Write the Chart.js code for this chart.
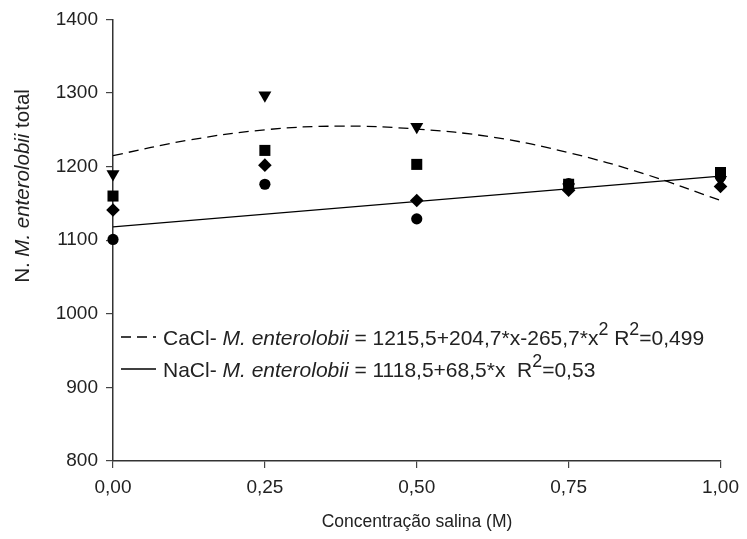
<!DOCTYPE html>
<html>
<head>
<meta charset="UTF-8">
<script src="https://cdn.jsdelivr.net/npm/chart.js"></script>
<style>
  html, body { margin: 0; padding: 0; background: #fff; }
  #wrap { width: 747px; height: 539px; }
</style>
</head>
<body>
<div id="wrap"><canvas id="myChart" width="747" height="539"></canvas></div>
<script>
// concentrations
var xCats = [0, 0.25, 0.5, 0.75, 1];
// observed counts, one array per marker
var triangleVals = [1190, 1297, 1254, 1172, 1182];
var squareVals   = [1160, 1222, 1203, 1176, 1192];
var diamondVals  = [1141, 1202, 1154, 1168, 1173];
var circleVals   = [1101, 1176, 1129, 1177, 1186];
// fitted curves
var caclX = [0, 0.125, 0.25, 0.375, 0.5, 0.625, 0.75, 0.875, 1];
var caclY = [1215, 1236, 1250, 1255, 1251, 1240, 1219, 1190, 1154];
var naclX = [0, 1];
var naclY = [1118, 1187];
var yTicks = [800, 900, 1000, 1100, 1200, 1300, 1400];

var FONT = '"Liberation Sans", Arial, sans-serif';
var INK = '#222';

function pts(xs, ys) {
  var out = [];
  for (var i = 0; i < xs.length; i++) out.push({x: xs[i], y: ys[i]});
  return out;
}

function markerSet(vals, style, r, rot) {
  return {
    type: 'scatter',
    data: pts(xCats, vals),
    pointStyle: style,
    pointRadius: r,
    pointRotation: rot || 0,
    backgroundColor: '#000',
    borderColor: '#000',
    borderWidth: 0,
    clip: false
  };
}

// draws a run of text pieces: [text, italic, sup]
function drawRich(ctx, x, y, parts, size) {
  var cx = x;
  for (var i = 0; i < parts.length; i++) {
    var p = parts[i];
    var s = p[2] ? size * 0.85 : size;
    ctx.font = (p[1] ? 'italic ' : '') + s + 'px ' + FONT;
    ctx.fillText(p[0], cx, p[2] ? y - size * 0.42 : y);
    cx += ctx.measureText(p[0]).width;
  }
  return cx;
}

var extras = {
  id: 'extras',
  afterDraw: function(chart) {
    var ctx = chart.ctx;
    ctx.save();
    ctx.fillStyle = INK;
    ctx.strokeStyle = '#000';
    ctx.textBaseline = 'middle';

    // x title
    ctx.font = '17.5px ' + FONT;
    ctx.textAlign = 'center';
    ctx.fillText('Concentração salina (M)', 417, 522);

    // y title, rotated
    ctx.save();
    ctx.translate(23, 186);
    ctx.rotate(-Math.PI / 2);
    ctx.textAlign = 'left';
    var parts = [['N. ', false], ['M. enterolobii', true], [' total', false]];
    var w = 0;
    parts.forEach(function(p) {
      ctx.font = (p[1] ? 'italic ' : '') + '20.5px ' + FONT;
      w += ctx.measureText(p[0]).width;
    });
    drawRich(ctx, -w / 2, 0, parts, 20.5);
    ctx.restore();

    // legend
    ctx.textAlign = 'left';
    ctx.lineWidth = 1.3;
    ctx.setLineDash([10, 6]);
    ctx.beginPath(); ctx.moveTo(121, 337); ctx.lineTo(156, 337); ctx.stroke();
    ctx.setLineDash([]);
    ctx.beginPath(); ctx.moveTo(121, 369); ctx.lineTo(156, 369); ctx.stroke();

    drawRich(ctx, 163, 339, [
      ['CaCl- ', false], ['M. enterolobii', true], [' = 1215,5+204,7*x-265,7*x', false],
      ['2', false, true], [' R', false], ['2', false, true], ['=0,499', false]
    ], 21);
    drawRich(ctx, 163, 371, [
      ['NaCl- ', false], ['M. enterolobii', true], [' = 1118,5+68,5*x  R', false],
      ['2', false, true], ['=0,53', false]
    ], 21);
    ctx.restore();
  }
};

var config = {
  type: 'scatter',
  data: {
    datasets: [
      {
        type: 'line',
        data: pts(caclX, caclY),
        borderColor: '#000',
        borderWidth: 1.3,
        borderDash: [10, 6],
        pointRadius: 0,
        tension: 0.4,
        fill: false
      },
      {
        type: 'line',
        data: pts(naclX, naclY),
        borderColor: '#000',
        borderWidth: 1.3,
        pointRadius: 0,
        fill: false
      },
      markerSet(triangleVals, 'triangle', 7.5, 180),
      markerSet(squareVals, 'rect', 7.8),
      markerSet(diamondVals, 'rectRot', 6.8),
      markerSet(circleVals, 'circle', 5.6)
    ]
  },
  options: {
    responsive: false,
    animation: false,
    events: [],
    layout: { padding: { top: 17, right: 25, left: 0, bottom: 0 } },
    plugins: { legend: { display: false }, tooltip: { enabled: false } },
    scales: {
      x: {
        type: 'linear',
        min: 0, max: 1,
        afterFit: function(s) { s.height = 78; },
        afterBuildTicks: function(s) { s.ticks = xCats.map(function(v) { return {value: v}; }); },
        ticks: {
          color: INK,
          font: { family: FONT, size: 19 },
          padding: 8,
          callback: function(v) { return v.toFixed(2).replace('.', ','); }
        },
        grid: { drawOnChartArea: false, tickLength: 7, color: '#444', lineWidth: 1.2 },
        border: { color: '#333', width: 1.5 }
      },
      y: {
        min: 800, max: 1400,
        afterFit: function(s) { s.width = 113; },
        afterBuildTicks: function(s) { s.ticks = yTicks.map(function(v) { return {value: v}; }); },
        ticks: {
          color: INK,
          font: { family: FONT, size: 19 },
          padding: 8,
          callback: function(v) { return String(v); }
        },
        grid: { drawOnChartArea: false, tickLength: 7, color: '#444', lineWidth: 1.2 },
        border: { color: '#333', width: 1.5 }
      }
    }
  },
  plugins: [extras]
};

window.myChart = new Chart(document.getElementById('myChart'), config);
</script>
</body>
</html>
